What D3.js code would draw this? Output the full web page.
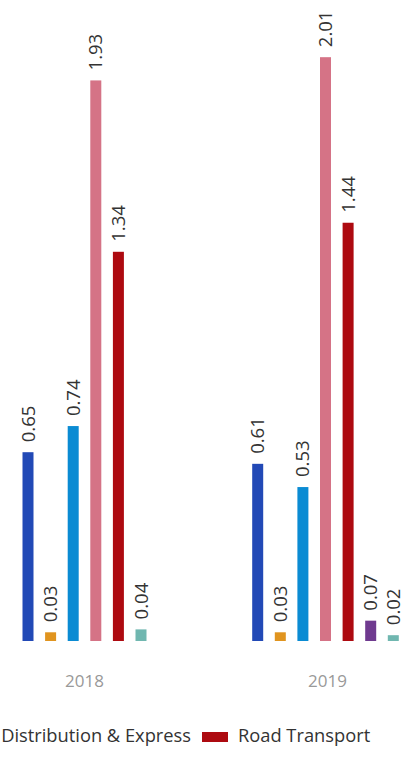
<!DOCTYPE html>
<html>
<head>
<meta charset="utf-8">
<script src="https://cdn.jsdelivr.net/npm/d3@7"></script>
<style>
  html, body { margin: 0; padding: 0; background: #fff; overflow: hidden; }
  svg { display: block; font-family: "Open Sans", Lato, sans-serif; }
</style>
</head>
<body>
<svg id="chart" width="405" height="771"></svg>
<script>
// ---- data ----
const categories = ["2018", "2019"];
const seriesColors = ["#2249b6", "#e0941f", "#0a8bd3", "#d57386", "#ad0a10", "#6f3a8f", "#70b7b0"];
const values2018 = [0.65, 0.03, 0.74, 1.93, 1.34, null, 0.04];
const values2019 = [0.61, 0.03, 0.53, 2.01, 1.44, 0.07, 0.02];
const legendNames = ["Distribution & Express", "Road Transport"];
const legendColors = ["#d57386", "#ad0a10"];

const valuesByCategory = [values2018, values2019];

const svg = d3.select("#chart");

const x = d3.scaleBand().domain(categories).range([-37, 449]).padding(0);
const y = d3.scaleLinear().domain([0, 2.2]).range([641, 2]);

const barStep = 22.6, barWidth = 11;

categories.forEach((cat, ci) => {
  const vals = valuesByCategory[ci]
    .map((v, si) => ({ v, si }))
    .filter(d => d.v !== null);
  const n = vals.length;
  const cx = x(cat) + x.bandwidth() / 2 - (ci === 1 ? 2 : 0);
  const sub = d3.scaleLinear().domain([0, n - 1]).range([cx - (n - 1) / 2 * barStep, cx + (n - 1) / 2 * barStep]);
  const g = svg.append("g");
  g.selectAll("rect").data(vals).join("rect")
    .attr("x", (d, i) => sub(i) - barWidth / 2)
    .attr("y", d => y(d.v))
    .attr("width", barWidth)
    .attr("height", d => y(0) - y(d.v))
    .attr("fill", d => seriesColors[d.si]);
  g.selectAll("text").data(vals).join("text")
    .attr("transform", (d, i) => `translate(${sub(i) + 6.5},${y(d.v) - 10}) rotate(-90)`)
    .attr("font-size", 18.5)
    .attr("fill", "#333")
    .text(d => d3.format(".2f")(d.v));
});

// x axis labels
svg.append("g").selectAll("text").data(categories).join("text")
  .attr("x", d => x(d) + x.bandwidth() / 2)
  .attr("y", 687)
  .attr("text-anchor", "middle")
  .attr("font-size", 17)
  .attr("fill", "#999")
  .text(d => d);

// legend
const lg = svg.append("g");
let cursor = 0;
const items = [];
legendNames.forEach((name, i) => {
  const it = lg.append("g").attr("transform", `translate(${cursor},0)`);
  it.append("rect").attr("x", 0).attr("y", 732).attr("width", 26).attr("height", 10).attr("fill", legendColors[i]);
  const t = it.append("text").attr("x", 36).attr("y", 742).attr("font-size", 18.3).attr("fill", "#333").text(name);
  const w = t.node().getComputedTextLength();
  items.push(cursor);
  cursor += 36 + w + 11;
});
// position so that second symbol starts at x=202
lg.attr("transform", `translate(${202 - items[1]},0)`);
</script>
</body>
</html>
